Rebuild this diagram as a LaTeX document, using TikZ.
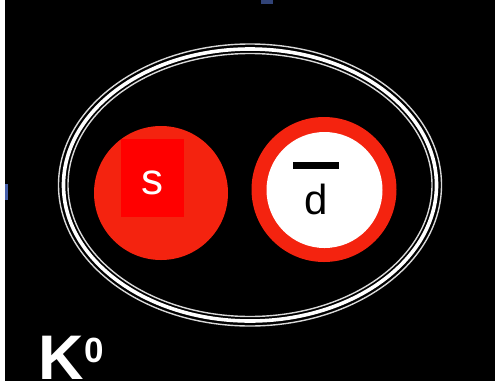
\documentclass[tikz,border=0pt]{standalone}
\usepackage{fontspec}
\setmainfont{Liberation Sans}
\definecolor{quarkred}{RGB}{244,35,15}
\definecolor{pured}{RGB}{255,0,0}
\definecolor{blobblue}{RGB}{70,95,170}
\tikzset{
  ringline/.style={draw=white, line width=#1},
  lbl/.style={inner sep=0pt, outer sep=0pt}
}
\begin{document}
\begin{tikzpicture}[x=1pt,y=-1pt]
\useasboundingbox (0,0) rectangle (495,381);
\fill[white] (0,0) rectangle (495,381);
\fill[black] (5,0) rectangle (495,381);
% small artefacts
\fill[blobblue] (5,184) rectangle (8,200);
\fill[blobblue!70!black] (261,0) rectangle (273,4);
% hadron ellipse (three rings)
\draw[ringline=1.4pt, draw=white!85!black] (250,185) ellipse [x radius=191.5, y radius=141];
\draw[ringline=3.6pt] (250,185) ellipse [x radius=186.5, y radius=136];
\draw[ringline=1.4pt, draw=white!85!black] (250,185) ellipse [x radius=182, y radius=131.5];
% s quark
\fill[quarkred] (161,193) circle [radius=67];
\fill[pured] (121,139) rectangle (184,217);
\node[lbl, text=white, font=\fontsize{44}{44}\selectfont] (s) at (152,183) {s};
% anti-d quark
\fill[quarkred] (324,189.5) circle [radius=72.5];
\fill[white] (324.5,190) circle [radius=58];
\fill[black] (293,162) rectangle (339,169);
\node[lbl, text=black, font=\fontsize{42}{42}\selectfont] (d) at (316,199) {d};
% label
\node[lbl, anchor=base west, text=white, font=\bfseries\fontsize{63}{63}\selectfont] (K) at (38,379) {K};
\node[lbl, anchor=base west, text=white, font=\bfseries\fontsize{35}{35}\selectfont] (zero) at (84,362) {0};
\end{tikzpicture}
\end{document}
